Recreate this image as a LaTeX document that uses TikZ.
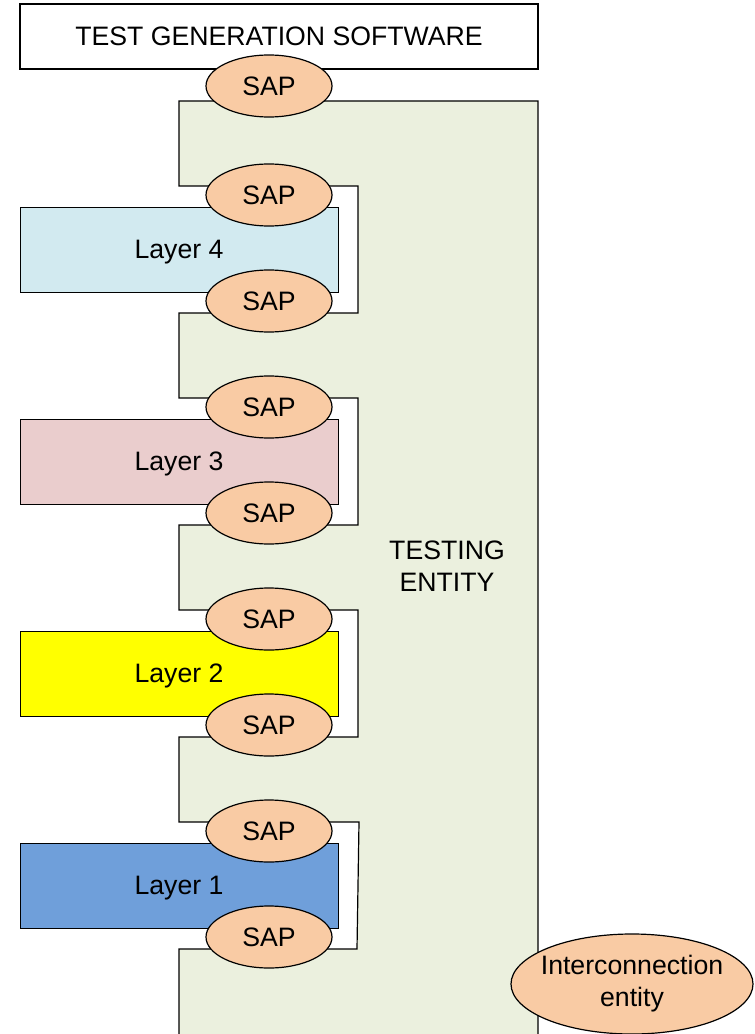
\documentclass[tikz,border=0pt]{standalone}
\usepackage{fontspec}
\setmainfont{Liberation Sans}
\usetikzlibrary{shapes.geometric}

\definecolor{entityfill}{RGB}{235,240,222}
\definecolor{sapfill}{RGB}{249,203,164}
\definecolor{layerfour}{RGB}{210,234,240}
\definecolor{layerthree}{RGB}{234,205,205}
\definecolor{layertwo}{RGB}{255,255,0}
\definecolor{layerone}{RGB}{111,159,218}

\begin{document}
\begin{tikzpicture}[x=0.75pt,y=0.75pt,yscale=-1,xscale=1,
    txt/.style={font=\fontsize{20}{24}\selectfont},
    sap/.style={txt,ellipse,draw,line width=0.9pt,fill=sapfill,minimum width=94.5pt,minimum height=46.5pt,inner sep=0pt},
    layer/.style={txt,draw,line width=0.7pt,minimum width=238.5pt,minimum height=63.75pt,inner sep=0pt,text depth=0pt}]

    \useasboundingbox (0,0) rectangle (755,1034);

    % testing entity
    \fill [entityfill] (179,101) -- (538,101) -- (538,1034) -- (179,1034) -- (179,949) -- (357,949) -- (359,822) -- (179,822) -- (179,737) -- (358,737) -- (358,610) -- (179,610) -- (179,525) -- (358,525) -- (358,398) -- (179,398) -- (179,313) -- (358,313) -- (358,186) -- (179,186) -- cycle ;
    \draw [line width=0.9pt] (179,1034) -- (179,949) -- (357,949) -- (359,822) -- (179,822) -- (179,737) -- (358,737) -- (358,610) -- (179,610) -- (179,525) -- (358,525) -- (358,398) -- (179,398) -- (179,313) -- (358,313) -- (358,186) -- (179,186) -- (179,101) -- (538,101) -- (538,1034) ;
    \node [txt,align=center] (testing) at (447,566) {TESTING\\ENTITY};

    % top box
    \node [txt,draw,line width=1.9pt,minimum width=388.5pt,minimum height=48.75pt,inner sep=0pt] (software) at (279,36.5) {TEST GENERATION SOFTWARE};

    % layers
    \node [layer,fill=layerfour] (layer4) at (179,249.5) {Layer 4};
    \node [layer,fill=layerthree] (layer3) at (179,461.5) {Layer 3};
    \node [layer,fill=layertwo] (layer2) at (179,673.5) {Layer 2};
    \node [layer,fill=layerone] (layer1) at (179,885.5) {Layer 1};

    % service access points
    \node [sap] (sap0) at (269,86) {SAP};
    \node [sap] (sap4t) at (269,195) {SAP};
    \node [sap] (sap4b) at (269,301) {SAP};
    \node [sap] (sap3t) at (269,407) {SAP};
    \node [sap] (sap3b) at (269,513) {SAP};
    \node [sap] (sap2t) at (269,619) {SAP};
    \node [sap] (sap2b) at (269,725) {SAP};
    \node [sap] (sap1t) at (269,831) {SAP};
    \node [sap] (sap1b) at (269,937) {SAP};

    \node [sap,align=center,minimum width=181.5pt,minimum height=75pt,inner xsep=-5pt] (interconn) at (632,984) {Interconnection\\entity};

\end{tikzpicture}
\end{document}
